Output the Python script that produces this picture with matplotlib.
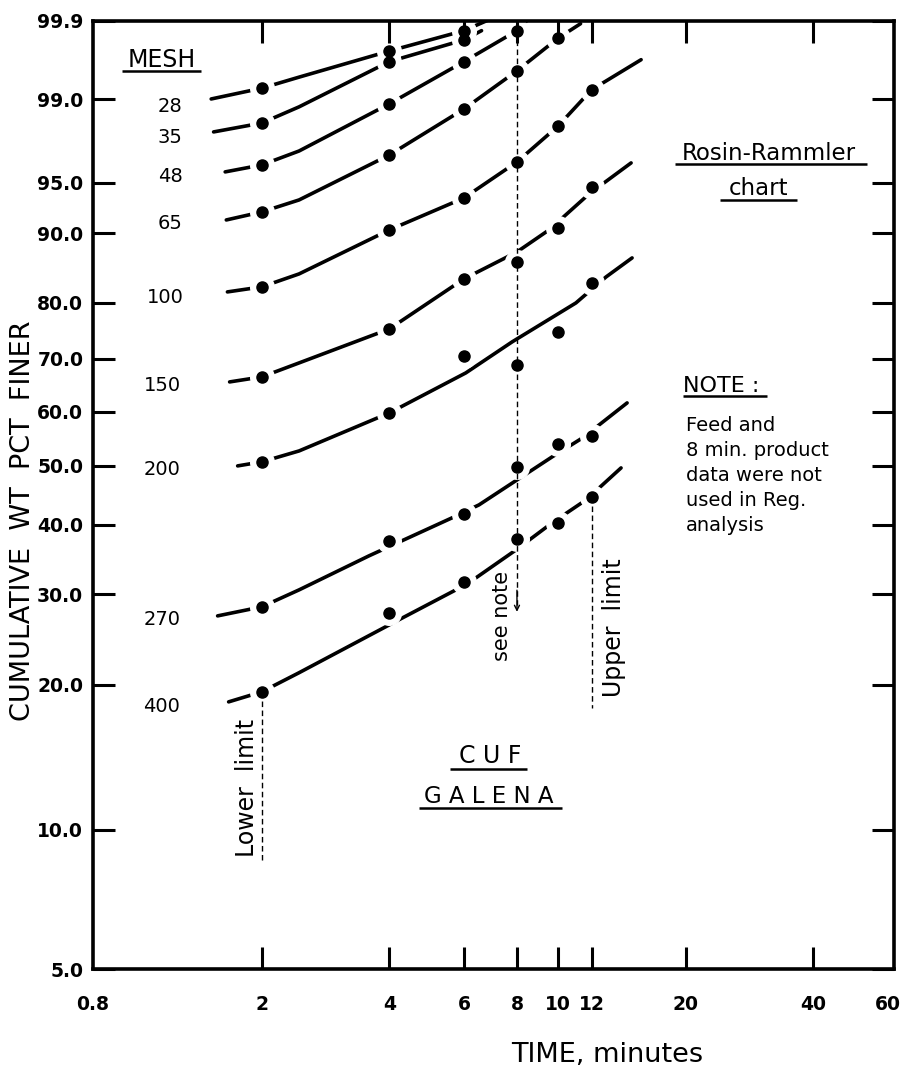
import numpy as np
import matplotlib
matplotlib.use('Agg')
import matplotlib.pyplot as plt
from matplotlib.lines import Line2D
from matplotlib.ticker import FixedLocator, NullLocator

nan = np.nan

# grinding time (minutes) and measured cumulative wt % finer per mesh size
times = [2, 4, 6, 8, 10, 12]
mesh = ['28', '35', '48', '65', '100', '150', '200', '270', '400']

pct_28 = [99.24, 99.73, 99.86, nan, nan, nan]
pct_35 = [98.30, 99.63, 99.81, nan, nan, nan]
pct_48 = [96.24, 98.89, 99.63, 99.86, nan, nan]
pct_65 = [92.37, 96.84, 98.75, 99.52, 99.82, nan]
pct_100 = [82.56, 90.41, 93.71, 96.43, 98.19, 99.21]
pct_150 = [66.59, 75.46, 83.80, 86.29, 90.64, 94.65]
pct_200 = [50.66, 59.75, 70.53, 68.85, 74.93, 83.18]
pct_270 = [28.38, 37.50, 41.70, 49.76, 53.94, 55.43]
pct_400 = [19.35, 27.64, 31.60, 37.77, 40.27, 44.54]

# regression curves (time, pct finer)
fit_t_28 = [1.52, 2, 2.45, 4, 6, 7.3]
fit_f_28 = [99.01, 99.24, 99.43, 99.73, 99.86, 99.92]
fit_t_35 = [1.54, 2, 2.45, 4, 6, 6.6]
fit_f_35 = [97.96, 98.30, 98.81, 99.63, 99.81, 99.86]
fit_t_48 = [1.64, 2, 2.45, 4, 6, 8, 8.7]
fit_f_48 = [95.78, 96.24, 97.06, 98.89, 99.63, 99.86, 99.92]
fit_t_65 = [1.65, 2, 2.45, 4, 6, 8, 10, 11.3]
fit_f_65 = [91.53, 92.37, 93.53, 96.84, 98.75, 99.52, 99.82, 99.89]
fit_t_100 = [1.66, 2, 2.45, 4, 6, 8, 10, 12, 15.7]
fit_f_100 = [81.76, 82.56, 84.55, 90.41, 93.71, 96.43, 98.19, 99.21, 99.65]
fit_t_150 = [1.68, 2, 2.45, 4, 6, 8, 9.52, 11.84, 14.87]
fit_f_150 = [65.64, 66.59, 69.23, 75.46, 83.80, 87.66, 90.41, 94.07, 96.37]
fit_t_200 = [1.755, 2, 2.45, 4, 6.06, 7.79, 11.02, 12.98, 14.95]
fit_f_200 = [49.94, 50.66, 52.65, 59.75, 67.35, 73.12, 79.96, 84.10, 86.85]
fit_t_270 = [1.574, 2, 2.45, 3.58, 5.62, 6.51, 9.68, 11.52, 12.50, 14.55]
fit_f_270 = [27.28, 28.38, 30.54, 35.24, 41.07, 43.20, 51.56, 55.24, 57.49, 61.65]
fit_t_400 = [1.671, 2, 2.446, 4.21, 5.74, 6.40, 7.96, 9.68, 11.64, 14.08]
fit_f_400 = [18.47, 19.35, 21.12, 26.81, 30.54, 32.14, 36.12, 40.27, 44.03, 49.58]

# vertical marker lines: lower limit, 8 min (see note), upper limit
lower_t, lower_f = [2, 2], [19.35, 8.62]
note_t, note_f = [8, 8], [99.86, 28.6]
upper_t, upper_f = [12, 12], [44.54, 17.96]

y_ticks = [5.0, 10.0, 20.0, 30.0, 40.0, 50.0, 60.0, 70.0, 80.0, 90.0, 95.0, 99.0, 99.9]
x_ticks = [0.8, 2, 4, 6, 8, 10, 12, 20, 40, 60]
x_labels = ['0.8', '2', '4', '6', '8', '10', '12', '20', '40', '60']

points = [pct_28, pct_35, pct_48, pct_65, pct_100, pct_150, pct_200, pct_270, pct_400]
fits = [(fit_t_28, fit_f_28), (fit_t_35, fit_f_35), (fit_t_48, fit_f_48),
        (fit_t_65, fit_f_65), (fit_t_100, fit_f_100), (fit_t_150, fit_f_150),
        (fit_t_200, fit_f_200), (fit_t_270, fit_f_270), (fit_t_400, fit_f_400)]


# Rosin-Rammler axis: ln(-ln(1 - F))
def rr_fwd(p):
    p = np.clip(np.asarray(p, dtype=float), 1e-6, 100 - 1e-9)
    return np.log(-np.log(1 - p / 100.0))


def rr_inv(g):
    return 100.0 * (1 - np.exp(-np.exp(g)))


W, H = 908, 1068
fig = plt.figure(figsize=(W / 100, H / 100), dpi=100)
ax = fig.add_axes([93 / W, 1 - 969 / H, (894 - 93) / W, (969 - 21) / H])

ax.set_xscale('log')
ax.set_yscale('function', functions=(rr_fwd, rr_inv))
ax.set_xlim(0.8, 62)
ax.set_ylim(5.0, 99.9)
ax.set_axisbelow(False)

for (ft, ff), pts in zip(fits, points):
    ax.plot(ft, ff, color='black', lw=2.6, solid_capstyle='round', zorder=2)
    ax.plot(times, pts, 'o', ms=17, color='white', zorder=2.2)
    ax.plot(times, pts, 'o', ms=8, color='black', zorder=3)

dash = dict(color='black', lw=1.0, ls=(0, (4, 2.5)), zorder=2.6)
ax.plot(lower_t, lower_f, **dash)
ax.plot(note_t, note_f, **dash)
ax.plot(upper_t, upper_f, **dash)
ax.annotate('', xy=(8, 27.77), xytext=(8, 30.5),
            arrowprops=dict(arrowstyle='->', lw=1.0, color='black',
                            shrinkA=0, shrinkB=0, mutation_scale=9))

ax.xaxis.set_major_locator(FixedLocator(x_ticks))
ax.xaxis.set_minor_locator(NullLocator())
ax.set_xticklabels(x_labels)
ax.yaxis.set_major_locator(FixedLocator(y_ticks))
ax.yaxis.set_minor_locator(NullLocator())
ax.set_yticklabels(['%.1f' % v for v in y_ticks])

ax.tick_params(axis='both', which='major', direction='in', length=15.5, width=2.2,
               top=True, right=True, labelsize=13.5)
ax.tick_params(axis='x', pad=19)
ax.tick_params(axis='y', pad=7)
for lab in ax.get_xticklabels() + ax.get_yticklabels():
    lab.set_fontweight('bold')

for loc, tk in zip(x_ticks, ax.xaxis.get_major_ticks()):
    if loc in (0.8, 60):
        tk.tick1line.set_visible(False)
        tk.tick2line.set_visible(False)

for sp in ax.spines.values():
    sp.set_linewidth(2.6)
    sp.set_zorder(10)


def ftext(x, y, s, **kw):
    kw.setdefault('va', 'baseline')
    kw.setdefault('ha', 'center')
    fig.text(x / W, 1 - y / H, s, color='black', **kw)


def uline(x0, x1, y, lw=1.8):
    fig.add_artist(Line2D([x0 / W, x1 / W], [1 - y / H, 1 - y / H],
                          color='black', lw=lw, solid_capstyle='butt'))


# mesh labels on the left
ftext(162, 67, 'MESH', fontsize=17)
uline(122, 201, 71)
mesh_xy = [(170, 112), (170, 143), (170, 182), (170, 229), (165, 303),
           (162, 391), (162, 475), (162, 625), (162, 712)]
for name, (x, y) in zip(mesh, mesh_xy):
    ftext(x, y, name, fontsize=14)

ftext(769, 160, 'Rosin-Rammler', fontsize=16.5)
uline(675, 867, 164)
ftext(759, 195, 'chart', fontsize=16.5)
uline(720, 797, 200)

ftext(683, 392, 'NOTE :', fontsize=16, ha='left')
uline(683, 767, 396)
note_lines = ['Feed and', '8 min. product', 'data were not', 'used in Reg.', 'analysis']
for i, s in enumerate(note_lines):
    ftext(686, 431 + 25 * i, s, fontsize=14, ha='left')

ftext(490, 763, 'C U F', fontsize=17)
uline(450, 527, 769)
ftext(489, 803, 'G A L E N A', fontsize=16.5)
uline(419, 562, 808)

ftext(502, 616, 'see note', fontsize=15, rotation=90, va='center')
ftext(614, 628, 'Upper  limit', fontsize=17, rotation=90, va='center')
ftext(247, 788, 'Lower  limit', fontsize=17, rotation=90, va='center')

ftext(23, 521, 'CUMULATIVE  WT  PCT  FINER', fontsize=19.5, rotation=90, va='center')
ftext(607, 1062, 'TIME, minutes', fontsize=19.5)

fig.savefig('out.png', dpi=100)
